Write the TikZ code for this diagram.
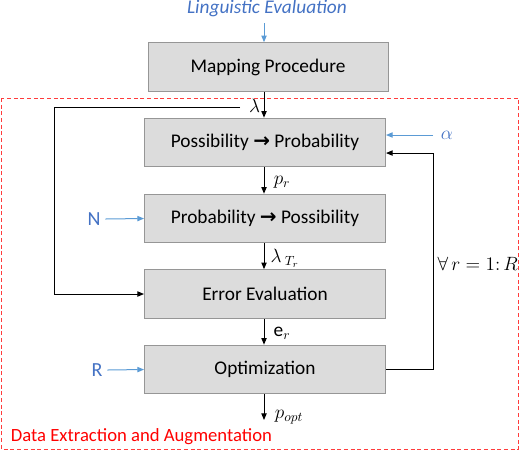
\documentclass[tikz,border=0pt]{standalone}
\usepackage{fontspec}
\setmainfont{Carlito}
\newfontfamily\arrowfont{DejaVu Sans}
\usetikzlibrary{arrows.meta}
\definecolor{boxgray}{RGB}{220,220,220}
\definecolor{edgegray}{RGB}{150,150,150}
\definecolor{inblue}{RGB}{68,114,196}
\definecolor{lineblue}{RGB}{91,155,213}
\definecolor{dashred}{RGB}{255,60,60}
\newcommand{\thickarrow}{{\arrowfont\bfseries\fontsize{15}{17}\selectfont →}}
\tikzset{every picture/.style={line width=0.75pt}}
\tikzset{
	procbox/.style={draw=edgegray, fill=boxgray, minimum width=180.75pt, minimum height=36.5pt, inner sep=0pt, font=\fontsize{14.5}{17}\selectfont},
	flow/.style={-{Triangle[length=5pt,width=4pt]}, black},
	inflow/.style={-{Triangle[length=5pt,width=4pt]}, lineblue},
	inlabel/.style={text=inblue, font=\fontsize{15}{17}\selectfont},
	sig/.style={font=\fontsize{14.5}{17}\selectfont}}

\begin{document}
\begin{tikzpicture}[x=0.75pt,y=0.75pt,yscale=-1,xscale=1]
	\useasboundingbox (0,0) rectangle (520,451);

	% Dashed frame
	\draw [dashred, dashed, dash pattern=on 3pt off 2pt] (1.5,98) rectangle (518.5,449);
	\node [anchor=west, text=red, font=\fontsize{14}{17}\selectfont] (frametitle) at (6,437) {Data Extraction and Augmentation};

	% Boxes
	\node [procbox, minimum width=180pt] (map) at (268,67) {Mapping Procedure};
	\node [procbox] (poss) at (265,142.5) {Possibility \thickarrow{} Probability};
	\node [procbox] (prob) at (265,218.5) {Probability \thickarrow{} Possibility};
	\node [procbox] (err) at (265,294) {Error Evaluation};
	\node [procbox] (opt) at (265,369.5) {Optimization};

	% Inputs
	\node [inlabel, font=\fontsize{14.5}{17}\selectfont\itshape] (ling) at (267,8) {Linguistic Evaluation};
	\node [inlabel] (alpha) at (447,135) {$\alpha$};
	\node [inlabel] (nin) at (94,219) {N};
	\node [inlabel] (rin) at (97,370) {R};

	\coordinate (ax) at (264,0);
	\coordinate (lamL) at (240,107);
	\coordinate (loopx) at (54,0);
	\coordinate (backx) at (433,0);
	\coordinate (out) at (264,420);

	% Main flow
	\draw [inflow] (ling.south -| ax) ++(0,2) -- (map.north -| ax);
	\draw [flow] (map.south -| ax) -- (poss.north -| ax);
	\draw [flow] (poss.south -| ax) -- (prob.north -| ax);
	\draw [flow] (prob.south -| ax) -- (err.north -| ax);
	\draw [flow] (err.south -| ax) -- (opt.north -| ax);
	\draw [flow] (opt.south -| ax) -- (out);

	% Loops
	\draw [flow] (lamL) -- (lamL -| loopx) -- (err.west -| loopx) -- (err.west);
	\draw [flow] (opt.east) -- (opt.east -| backx) -- ([yshift=7.9pt]poss.east -| backx) -- ([yshift=7.9pt]poss.east);

	\draw [inflow] (alpha.west) ++(-3,0) -- (alpha.west -| poss.east);
	\draw [inflow] (nin.east) -- (prob.west);
	\draw [inflow] (rin.east) -- (opt.west);

	% Signal labels
	\node [sig] (lam) at (254.5,106) {$\lambda$};
	\node [sig] (pr) at (282,182) {$p_r$};
	\node [sig] (lamt) at (285,258) {$\lambda\,_{T_r}$};
	\node [sig] (er) at (282,333) {e$_r$};
	\node [sig] (popt) at (289,417) {$p_{opt}$};
	\node [sig, anchor=west, inner sep=0pt] (forall) at (437,264) {$\forall\,r=1\colon R$};

\end{tikzpicture}
\end{document}
